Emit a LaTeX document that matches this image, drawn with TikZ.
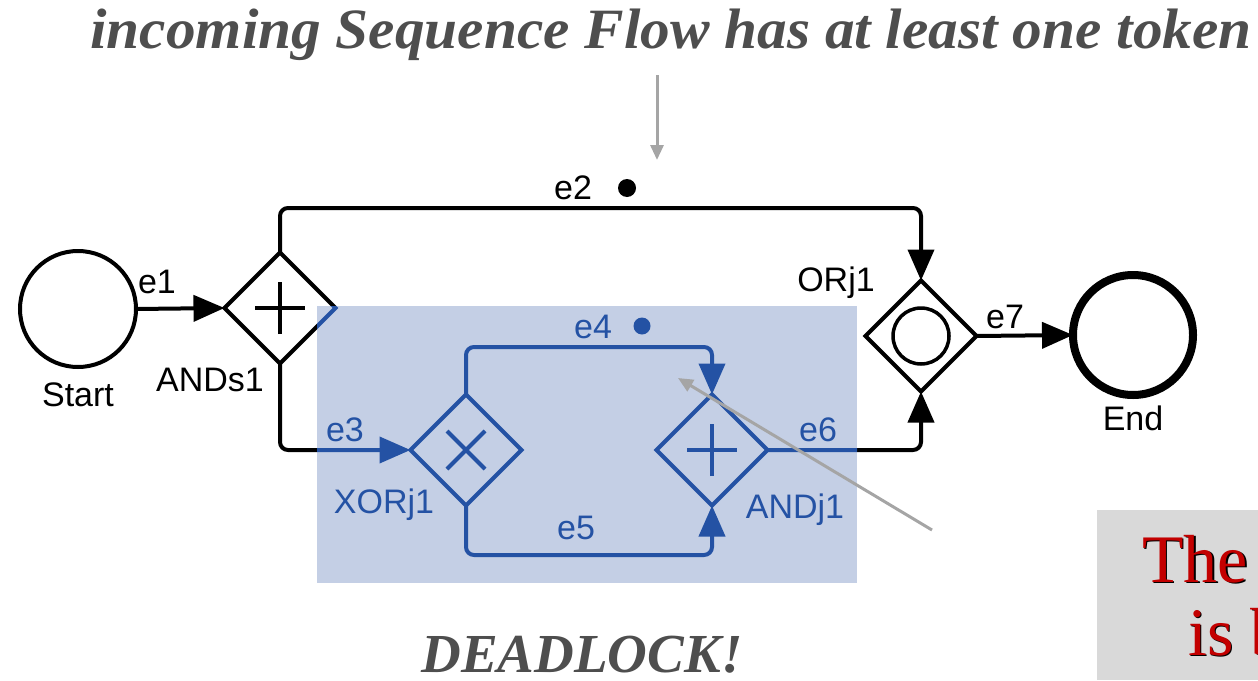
\documentclass[tikz,border=0pt]{standalone}
\usepackage{fontspec}
\setmainfont{Liberation Serif}
\newfontfamily\helv{Liberation Sans}
\usetikzlibrary{shapes.geometric,arrows.meta}
\definecolor{ovblue}{RGB}{36,82,164}
\definecolor{ovbg}{RGB}{196,207,229}
\definecolor{pgray}{RGB}{165,165,165}
\definecolor{tgray}{RGB}{78,78,78}
\definecolor{boxgray}{RGB}{217,217,217}
\definecolor{redtxt}{RGB}{195,0,0}
\colorlet{fg}{black}
\tikzset{
  flow/.style={draw=fg, line width=4pt, rounded corners=8pt, -{Triangle[length=31pt,width=26pt]}},
  gate/.style={diamond, draw=fg, line width=4pt, minimum width=111pt, minimum height=111pt, aspect=1, inner sep=0pt, outer sep=0pt},
  ev/.style={circle, draw=fg, line width=4pt, minimum size=116pt, inner sep=0pt, outer sep=0pt},
  lbl/.style={text=fg, font=\helv\fontsize{34}{38}\selectfont, inner sep=0pt},
  tok/.style={circle, fill=fg, inner sep=0pt, minimum size=18pt},
  gmark/.style={draw=fg, line width=4pt},
  note/.style={draw=pgray, line width=3pt, -{Triangle[length=15pt,width=13pt]}},
  big/.style={text=tgray, font=\bfseries\itshape\fontsize{57}{64}\selectfont, inner sep=0pt},
}
\newcommand\bpmndraw{%
  \node[ev] (start) at (78,309) {};
  \node[ev, line width=8pt, minimum size=120pt] (end) at (1133,335) {};
  \node[gate] (ands) at (280,308) {};
  \node[gate] (xorj) at (466,450) {};
  \node[gate] (andj) at (712,450) {};
  \node[gate] (orj) at (921,336) {};
  \draw[gmark] ([xshift=-25pt]ands.center) -- ([xshift=25pt]ands.center)
               ([yshift=-26pt]ands.center) -- ([yshift=26pt]ands.center);
  \draw[gmark] ([xshift=-25pt]andj.center) -- ([xshift=25pt]andj.center)
               ([yshift=-26pt]andj.center) -- ([yshift=26pt]andj.center);
  \draw[gmark] ([shift={(-19pt,-19pt)}]xorj.center) -- ([shift={(19pt,19pt)}]xorj.center)
               ([shift={(-19pt,19pt)}]xorj.center) -- ([shift={(19pt,-19pt)}]xorj.center);
  \draw[gmark, line width=3.5pt] (orj.center) circle[radius=28pt];
  \coordinate (ytop) at (0,208);
  \coordinate (ye4) at (0,347);
  \coordinate (ye5) at (0,555);
  \draw[flow] (start.east) -- (ands.west);
  \draw[flow] (ands.north) -- (ands.north |- ytop) -| (orj.north);
  \draw[flow] (ands.south) |- (xorj.west);
  \draw[flow] (xorj.north) -- (xorj.north |- ye4) -| (andj.north);
  \draw[flow] (xorj.south) -- (xorj.south |- ye5) -| (andj.south);
  \draw[flow] (andj.east) -| (orj.south);
  \draw[flow] (orj.east) -- (end.west);
  \node[lbl] (le1) at (157,282) {e1};
  \node[lbl] (le2) at (573,188) {e2};
  \node[lbl] (le3) at (345,430) {e3};
  \node[lbl] (le4) at (593,327) {e4};
  \node[lbl] (le5) at (576,528) {e5};
  \node[lbl] (le6) at (818,430) {e6};
  \node[lbl] (le7) at (1005,317) {e7};
  \node[lbl] (lstart) at (78,395) {Start};
  \node[lbl] (lands) at (210,380) {ANDs1};
  \node[lbl] (lxorj) at (384,505) {XORj1};
  \node[lbl] (landj) at (795,510) {ANDj1};
  \node[lbl] (lorj) at (836,283) {ORj1};
  \node[lbl] (lend) at (1133,418) {End};
  \node[tok] (t2) at (627,188) {};
  \node[tok, minimum size=17pt] (t4) at (642,326) {};
}
\begin{document}
\begin{tikzpicture}[x=1pt,y=-1pt]
  \useasboundingbox (0,0) rectangle (1258,680);
  \clip (0,0) rectangle (1258,680);
  \bpmndraw
  \fill[ovbg] (317,306) rectangle (857,583);
  \begin{scope}
    \clip (317,306) rectangle (857,583);
    \colorlet{fg}{ovblue}
    \bpmndraw
  \end{scope}
  \node[big, anchor=base, xscale=1.04] (title) at (671,48) {incoming Sequence Flow has at least one token};
  \node[big, anchor=base, font=\bfseries\itshape\fontsize{55}{60}\selectfont] (dead) at (582,672) {DEADLOCK!};
  \coordinate (n1s) at (657,75);
  \coordinate (n1e) at (657,160);
  \draw[note] (n1s) -- (n1e);
  \coordinate (n2s) at (932,530);
  \coordinate (n2e) at (678,378);
  \draw[note] (n2s) -- (n2e);
  \fill[boxgray] (1097,510) rectangle (1258,680);
  \node[anchor=base west, inner sep=0pt, font=\fontsize{68}{73}\selectfont, text=black] (bt1s) at (1143.5,583.5) {The};
  \node[anchor=base west, inner sep=0pt, font=\fontsize{68}{73}\selectfont, text=redtxt] (bt1) at (1142,582) {The};
  \node[anchor=base west, inner sep=0pt, font=\fontsize{68}{73}\selectfont, text=black] (bt2s) at (1189.5,656.5) {is b};
  \node[anchor=base west, inner sep=0pt, font=\fontsize{68}{73}\selectfont, text=redtxt] (bt2) at (1188,655) {is b};
\end{tikzpicture}
\end{document}
